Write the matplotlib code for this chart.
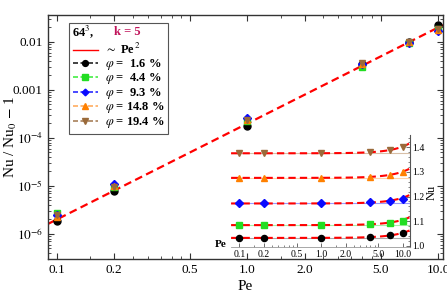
import matplotlib
matplotlib.use("Agg")
import matplotlib.pyplot as plt
import numpy as np
from matplotlib.lines import Line2D
from matplotlib import ticker

plt.rcParams['font.family'] = 'serif'
plt.rcParams['font.serif'] = ['Liberation Serif', 'DejaVu Serif']
plt.rcParams['mathtext.fontset'] = 'stix'

# Peclet numbers of the runs
pe = [0.1, 0.2, 1.0, 4.0, 7.0, 10.0]

# volume fractions (legend labels)
phi_labels = ['1.6', '4.4', '9.3', '14.8', '19.4']

# Nu/Nu0 - 1 for each volume fraction
rel_16 = [1.9e-6, 7.9e-6, 1.75e-4, 3.4e-3, 1.0e-2, 2.2e-2]
rel_44 = [2.75e-6, 9.5e-6, 2.3e-4, 3.0e-3, 9.3e-3, 1.9e-2]
rel_93 = [2.45e-6, 1.08e-5, 2.65e-4, 3.4e-3, 9.6e-3, 1.7e-2]
rel_148 = [2.3e-6, 9.8e-6, 2.4e-4, 3.5e-3, 1.0e-2, 1.8e-2]
rel_194 = [2.5e-6, 9.3e-6, 2.35e-4, 3.6e-3, 1.0e-2, 1.85e-2]

# Nu itself (inset)
nu_16 = [1.032, 1.032, 1.032, 1.035, 1.042, 1.052]
nu_44 = [1.084, 1.084, 1.084, 1.087, 1.094, 1.101]
nu_93 = [1.172, 1.172, 1.172, 1.176, 1.183, 1.192]
nu_148 = [1.276, 1.276, 1.276, 1.280, 1.288, 1.299]
nu_194 = [1.376, 1.376, 1.376, 1.380, 1.389, 1.400]

# Nu0 (Pe -> 0) of each series
nu0 = [1.032, 1.084, 1.172, 1.276, 1.376]

# ~Pe^2 fit coefficient
FIT_COEF = 2.0e-4

rel_all = [rel_16, rel_44, rel_93, rel_148, rel_194]
nu_all = [nu_16, nu_44, nu_93, nu_148, nu_194]
mcolors = ['black', '#22dd22', '#0a0aff', '#ff8000', '#9a6a3a']
lcolors = ['#222222', '#44ee44', '#2a2aff', '#ffad60', '#a8805a']
pale = ['#aaaaaa', '#a8f0a8', '#9a9aff', '#ffd2a8', '#d8c0a8']
markers = ['o', 's', 'D', '^', 'v']
msizes = [5, 4.5, 4.2, 5, 5]

fig = plt.figure(figsize=(4.47, 2.93), dpi=100)
ax = fig.add_axes([0.107, 0.116, 0.884, 0.833])

xmin, xmax = 0.0897, 10.6
xs = np.array([xmin, xmax])
ax.plot(xs, FIT_COEF * xs**2, color='red', lw=1.6, ls=(0, (3.5, 2)), zorder=2)

for i in range(5):
    ax.plot(pe, rel_all[i], ls='none', marker=markers[i], ms=msizes[i],
            color=mcolors[i], zorder=3 + i)

ax.set_xscale('log')
ax.set_yscale('log')
ax.set_xlim(xmin, xmax)
ax.set_ylim(3.0e-7, 0.0365)

ax.set_xticks([0.1, 0.2, 0.5, 1.0, 2.0, 5.0, 10.0])
ax.set_xticklabels(['0.1', '0.2', '0.5', '1.0', '2.0', '5.0', '10.0'])
ax.xaxis.set_minor_locator(ticker.LogLocator(base=10, subs=np.arange(2, 10) * 0.5))
ax.xaxis.set_minor_formatter(ticker.NullFormatter())
ax.set_yticks([1e-6, 1e-5, 1e-4, 1e-3, 1e-2])
ax.set_yticklabels(['$10^{-6}$', '$10^{-5}$', '$10^{-4}$', '0.001', '0.01'])
ax.yaxis.set_minor_locator(ticker.LogLocator(base=10, subs=np.arange(2, 10)))
ax.yaxis.set_minor_formatter(ticker.NullFormatter())
ax.tick_params(which='both', direction='in', top=True, right=True,
               labelsize=9.5, color='#333333')
ax.tick_params(which='major', length=4.5, width=0.8)
ax.tick_params(which='minor', length=2.2, width=0.6)
for s in ax.spines.values():
    s.set_color('#333333')
    s.set_linewidth(1.0)

ax.set_xlabel('Pe', fontsize=11)
ax.xaxis.set_label_coords(0.5, -0.085)
ax.set_ylabel('Nu / Nu$_0$ $-$ 1', fontsize=11)
ax.yaxis.set_label_coords(-0.072, 0.5)

# legend
handles = [Line2D([], [], color='red', lw=1.0)]
labels = [r'$\sim$ Pe$^{\,2}$']
for i in range(5):
    handles.append(Line2D([], [], color=lcolors[i], lw=1.2, ls=(0, (3, 1.5)),
                          marker=markers[i], ms=msizes[i] - 0.8,
                          mfc=mcolors[i], mec=mcolors[i]))
    pad = '  ' if len(phi_labels[i]) == 3 else ' '
    labels.append(r'$\varphi$ =' + pad + phi_labels[i] + ' %')
leg = ax.legend(handles, labels, loc='upper left', bbox_to_anchor=(0.053, 0.967),
                borderaxespad=0, frameon=True, fancybox=False, framealpha=1,
                edgecolor='#555555', prop={'weight': 'bold', 'size': 9},
                title=' ', title_fontsize=12, handlelength=2.0, handleheight=0.5,
                labelspacing=-0.04, borderpad=0.3, handletextpad=0.6)
leg.get_frame().set_linewidth(0.8)
ax.text(0.09, 0.93, '64$^3$,', transform=ax.transAxes, fontsize=9,
        fontweight='bold', ha='center', va='center', zorder=20)
ax.text(0.2, 0.93, 'k = 5', transform=ax.transAxes, fontsize=9,
        fontweight='bold', color='#c0145a', ha='center', va='center', zorder=20)

# inset
ins = fig.add_axes([0.517, 0.157, 0.400, 0.382])
ins.set_facecolor('none')
ix = np.geomspace(0.079, 12.2, 60)
for i in range(5):
    ins.axhline(nu0[i], color=pale[i], lw=0.8, zorder=1)
    ins.plot(ix, nu0[i] * (1 + FIT_COEF * ix**2), color='red', lw=1.5,
             ls=(0, (3.5, 2)), zorder=2)
    ins.plot(pe, nu_all[i], ls='none', marker=markers[i], ms=msizes[i] - 0.6,
             color=mcolors[i], zorder=3 + i)
ins.set_xscale('log')
ins.set_xlim(0.079, 12.2)
ins.set_ylim(0.995, 1.45)
ins.set_xticks([0.1, 0.2, 0.5, 1.0, 2.0, 5.0, 10.0])
ins.set_xticklabels(['0.1', '0.2', '0.5', '1.0', '2.0', '5.0', '10.0'])
ins.xaxis.set_minor_locator(ticker.LogLocator(base=10, subs=np.arange(2, 10) * 0.5))
ins.xaxis.set_minor_formatter(ticker.NullFormatter())
ins.set_yticks([1.0, 1.1, 1.2, 1.3, 1.4])
ins.yaxis.set_minor_locator(ticker.MultipleLocator(0.02))
ins.yaxis.tick_right()
ins.tick_params(which='both', direction='in', labelsize=7, color='#555555', pad=2)
ins.tick_params(which='major', length=3, width=0.6)
ins.tick_params(which='minor', length=1.5, width=0.5)
ins.spines['left'].set_visible(False)
ins.spines['top'].set_visible(False)
ins.spines['right'].set_color('#555555')
ins.spines['right'].set_linewidth(0.8)
ins.spines['bottom'].set_color('#999999')
ins.spines['bottom'].set_linewidth(0.6)
ins.text(-0.06, 0.02, 'Pe', transform=ins.transAxes, fontsize=8,
         fontweight='bold', ha='center', va='center')
ins.text(1.123, 0.49, 'Nu', transform=ins.transAxes, fontsize=9,
         rotation=90, ha='center', va='center')

fig.savefig('out.png', dpi=100)
